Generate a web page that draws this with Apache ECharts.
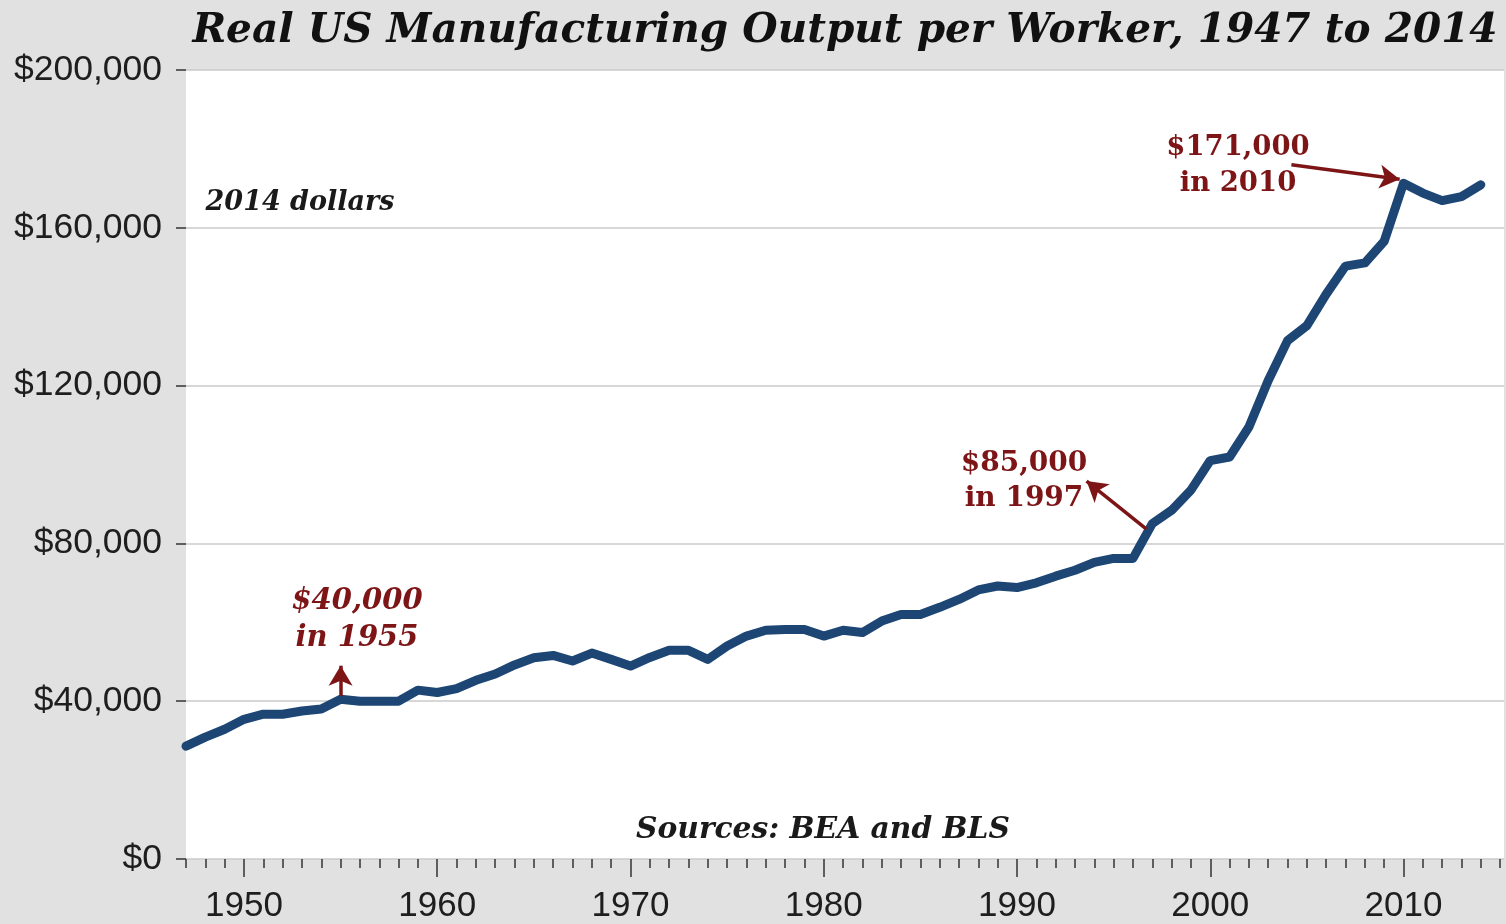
<!DOCTYPE html>
<html>
<head>
<meta charset="utf-8">
<script src="https://cdn.jsdelivr.net/npm/echarts@6/dist/echarts.min.js"></script>
<style>
html,body{margin:0;padding:0;background:#e1e1e1;}
#chart{width:1506px;height:924px;}
</style>
</head>
<body>
<div id="chart"></div>
<script>
const years = [];
for (let y = 1947; y <= 2014; y++) years.push(y);
const outputPerWorker = [
  28600, 30900, 32900, 35400, 36700, 36700, 37500, 38000, 40500, 40000,
  40000, 40000, 42800, 42200, 43200, 45300, 46900, 49200, 51000, 51600,
  50200, 52200, 50600, 48900, 51100, 52900, 52900, 50600, 54000, 56500,
  58000, 58200, 58200, 56500, 58000, 57400, 60300, 62000, 62000, 63800,
  65800, 68200, 69200, 68800, 70000, 71700, 73200, 75200, 76200, 76200,
  85000, 88400, 93500, 101000, 101900, 109500, 121300, 131400, 135200, 143200,
  150300, 151100, 156600, 171300, 168800, 166900, 167900, 170900
];
const yTicks = [0, 40000, 80000, 120000, 160000, 200000];
const xMajorTicks = [1950, 1960, 1970, 1980, 1990, 2000, 2010];
const xMinorTicks = [];
for (let y = 1947; y <= 2015; y++) xMinorTicks.push(y);
const titleText = 'Real US Manufacturing Output per Worker, 1947 to 2014';
const unitText = '2014 dollars';
const sourceText = 'Sources: BEA and BLS';
const notes = [
  {lines: '$40,000\nin 1955', from: [1955, 41300], to: [1955, 49000], italic: true},
  {lines: '$85,000\nin 1997', from: [1996.7, 83600], to: [1993.6, 95800], italic: false},
  {lines: '$171,000\nin 2010', from: [2004.2, 176000], to: [2009.8, 172300], italic: false}
];

const data = years.map((y, i) => [y, outputPerWorker[i]]);
const serif = '"DejaVu Serif", "Liberation Serif", serif';
const sans = '"Liberation Sans", Arial, sans-serif';
const noteColor = '#7d1517';

const chart = echarts.init(document.getElementById('chart'));
const option = {
  backgroundColor: '#e1e1e1',
  animation: false,
  grid: {left: 186, right: 2, top: 70, bottom: 64, show: true, backgroundColor: '#ffffff', borderWidth: 0},
  xAxis: [
    {
      type: 'value', min: 1947, max: 2015.2,
      axisLine: {show: false},
      splitLine: {show: false},
      axisTick: {show: true, customValues: xMajorTicks, length: 18, lineStyle: {color: '#333', width: 1.5}},
      axisLabel: {customValues: xMajorTicks, fontSize: 35, fontFamily: sans, color: '#1e1e1e', margin: 30,
        formatter: v => String(v)}
    },
    {
      type: 'value', min: 1947, max: 2015.2, position: 'bottom',
      axisLine: {show: false},
      splitLine: {show: false},
      axisTick: {show: true, customValues: xMinorTicks, length: 9, lineStyle: {color: '#333', width: 1.5}},
      axisLabel: {show: false}
    }
  ],
  yAxis: {
    type: 'value', min: 0, max: 200000, interval: 40000,
    axisLine: {show: false},
    axisTick: {show: true, length: 10, lineStyle: {color: '#333', width: 1.5}},
    splitLine: {show: true, lineStyle: {color: '#cacaca', width: 1.5}},
    axisLabel: {
      fontSize: 35.5, fontFamily: sans, color: '#1e1e1e', margin: 24,
      formatter: v => '$' + v.toLocaleString('en-US')
    }
  },
  series: [
    {
      type: 'line', xAxisIndex: 0, data: data, showSymbol: false,
      lineStyle: {color: '#1d4675', width: 9, join: 'round', cap: 'round'},
      z: 3,
      markLine: {
        silent: true, animation: false,
        symbol: ['none', 'arrow'], symbolSize: [18, 20],
        label: {show: false},
        lineStyle: {color: noteColor, width: 3.5, type: 'solid'},
        data: notes.map(n => [{coord: n.from}, {coord: n.to}])
      }
    }
  ],
  graphic: [
    {type: 'text', x: 845, y: 31, z: 10, style: {text: titleText, font: 'italic bold 40.6px ' + serif, fill: '#111', align: 'center', verticalAlign: 'middle'}},
    {type: 'text', x: 300, y: 203, z: 10, style: {text: unitText, font: 'italic bold 27px ' + serif, fill: '#1a1a1a', align: 'center', verticalAlign: 'middle'}},
    {type: 'text', x: 823, y: 830, z: 10, style: {text: sourceText, font: 'italic bold 29.7px ' + serif, fill: '#1a1a1a', align: 'center', verticalAlign: 'middle'}},
    {type: 'text', x: 357, y: 620, z: 10, style: {text: notes[0].lines, font: 'italic bold 29px ' + serif, lineHeight: 37, fill: noteColor, align: 'center', verticalAlign: 'middle'}},
    {type: 'text', x: 1024, y: 481, z: 10, style: {text: notes[1].lines, font: 'bold 28px ' + serif, lineHeight: 35, fill: noteColor, align: 'center', verticalAlign: 'middle'}},
    {type: 'text', x: 1238, y: 166, z: 10, style: {text: notes[2].lines, font: 'bold 27.5px ' + serif, lineHeight: 36, fill: noteColor, align: 'center', verticalAlign: 'middle'}}
  ]
};
chart.setOption(option);
</script>
</body>
</html>
